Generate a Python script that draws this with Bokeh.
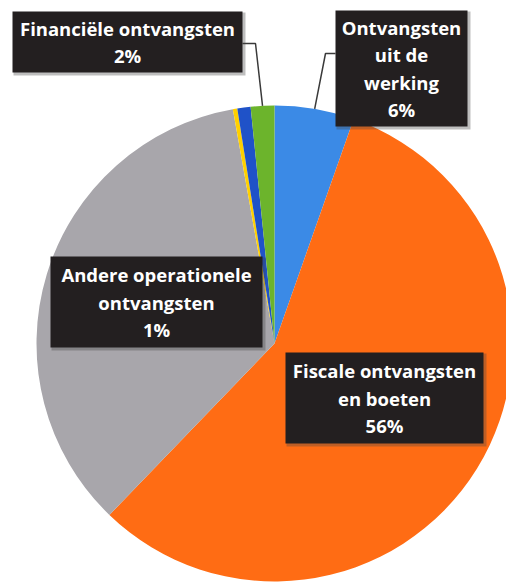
import math
from bokeh.plotting import figure
from bokeh.models import ColumnDataSource, Range1d
from bokeh.embed import file_html
from bokeh.resources import INLINE
from bokeh.core.properties import value

# ---- data (clockwise from 12 o'clock) ----
categories = ["Ontvangsten uit de werking", "Fiscale ontvangsten en boeten",
              "Overige ontvangsten", "Diverse ontvangsten",
              "Andere operationele ontvangsten", "Financiële ontvangsten"]
shares = [5.4, 56.8, 35.0, 0.3, 0.9, 1.6]
colors = ["#3b8ae6", "#ff6c14", "#a8a6ab", "#ffd000", "#1f52c8", "#6cb42c"]

label_lines = {
    "Financiële ontvangsten": ["Financiële ontvangsten", "2%"],
    "Ontvangsten uit de werking": ["Ontvangsten", "uit de", "werking", "6%"],
    "Andere operationele ontvangsten": ["Andere operationele", "ontvangsten", "1%"],
    "Fiscale ontvangsten en boeten": ["Fiscale ontvangsten", "en boeten", "56%"],
}

W, H = 506, 584
def px(x):  # screen x -> data x
    return x
def py(y):  # screen y -> data y
    return H - y

# ---- figure ----
p = figure(width=W, height=H, x_range=Range1d(0, W), y_range=Range1d(0, H),
           output_backend="svg", toolbar_location=None, min_border=0)
p.axis.visible = False
p.grid.visible = False
p.outline_line_color = None
p.background_fill_color = "white"
p.border_fill_color = "white"

cx, cy, R = px(274), py(343), 238

total = sum(shares)
starts, ends, mids = [], [], []
cum = 0.0
for s in shares:
    a0 = math.pi / 2 - 2 * math.pi * cum / total
    cum += s
    a1 = math.pi / 2 - 2 * math.pi * cum / total
    starts.append(a0); ends.append(a1); mids.append((a0 + a1) / 2)

src = ColumnDataSource(dict(start=starts, end=ends, color=colors, cat=categories))
p.wedge(x=cx, y=cy, radius=R, start_angle="start", end_angle="end",
        direction="clock", fill_color="color", line_color=None, source=src)

# ---- leader lines ----
def edge_point(cat):
    i = categories.index(cat)
    a = mids[i]
    return cx + R * math.cos(a), cy + R * math.sin(a)

ex, ey = edge_point("Financiële ontvangsten")
p.line([px(242), px(255), ex], [py(43), py(43), ey], line_color="#3a3a3a", line_width=1.5)
ex, ey = edge_point("Ontvangsten uit de werking")
p.line([px(335), px(325), ex], [py(53), py(53), ey], line_color="#3a3a3a", line_width=1.5)

# ---- label boxes ----
boxes = {
    "Financiële ontvangsten": (12, 242, 11, 72),
    "Ontvangsten uit de werking": (335, 467, 10, 126),
    "Andere operationele ontvangsten": (50, 262, 256, 347),
    "Fiscale ontvangsten en boeten": (285, 483, 352, 443),
}
line_step = 27.5

for cat, (x0, x1, y0, y1) in boxes.items():
    # soft shadow
    p.quad(left=px(x0) + 1, right=px(x1) + 3, top=py(y0) - 1, bottom=py(y1) - 3,
           fill_color="#444444", fill_alpha=0.35, line_color=None)
    p.quad(left=px(x0), right=px(x1), top=py(y0), bottom=py(y1),
           fill_color="#231f20", line_color=None)
    lines = label_lines[cat]
    n = len(lines)
    yc = (y0 + y1) / 2
    ys = [py(yc + (k - (n - 1) / 2) * line_step) for k in range(n)]
    xs = [px((x0 + x1) / 2)] * n
    p.text(x=xs, y=ys, text=lines, text_color="white",
           text_font=value("Open Sans"), text_font_style="bold",
           text_font_size="18.5px", text_align="center", text_baseline="middle")

open("out.html", "w").write(file_html(p, INLINE))
